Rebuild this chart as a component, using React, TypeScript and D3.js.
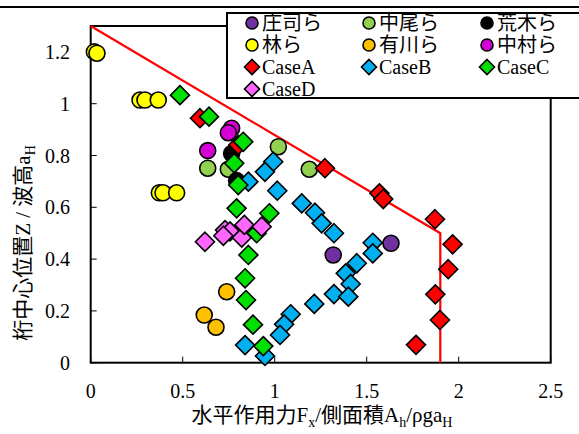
import * as d3 from 'd3';

type Pt = [number, number];

const shoji: Pt[] = [[1.318, 0.416], [1.632, 0.461]];
const nakao: Pt[] = [[0.636, 0.751], [0.748, 0.747], [1.02, 0.834], [1.188, 0.747]];
const araki: Pt[] = [[0.766, 0.808], [0.793, 0.703]];
const hayashi: Pt[] = [
  [0.02, 1.2], [0.034, 1.195], [0.268, 1.014], [0.295, 1.014], [0.367, 1.014],
  [0.373, 0.656], [0.393, 0.656], [0.467, 0.656],
];
const arikawa: Pt[] = [[0.739, 0.274], [0.617, 0.184], [0.681, 0.137]];
const nakamura: Pt[] = [[0.766, 0.905], [0.748, 0.888], [0.636, 0.819]];
const caseA: Pt[] = [
  [0.594, 0.944], [0.802, 0.841], [1.273, 0.751], [1.569, 0.654], [1.59, 0.632],
  [1.871, 0.554], [1.967, 0.457], [1.943, 0.361], [1.873, 0.264], [1.898, 0.165], [1.768, 0.069],
];
const caseB: Pt[] = [
  [0.992, 0.776], [0.947, 0.737], [0.857, 0.699], [1.014, 0.664], [1.147, 0.615],
  [1.219, 0.579], [1.255, 0.538], [1.322, 0.5], [1.533, 0.463], [1.533, 0.422],
  [1.446, 0.384], [1.386, 0.345], [1.413, 0.304], [1.322, 0.265], [1.4, 0.255],
  [1.215, 0.227], [1.087, 0.187], [1.051, 0.148], [1.029, 0.107], [0.839, 0.068], [0.947, 0.026],
];
const caseC: Pt[] = [
  [0.485, 1.033], [0.643, 0.95], [0.829, 0.853], [0.78, 0.77], [0.802, 0.686],
  [0.793, 0.596], [0.971, 0.577], [0.902, 0.5], [0.857, 0.416], [0.839, 0.326],
  [0.844, 0.242], [0.882, 0.147], [0.938, 0.064],
];
const caseD: Pt[] = [
  [0.621, 0.467], [0.73, 0.512], [0.757, 0.507], [0.721, 0.49], [0.821, 0.483],
  [0.835, 0.532], [0.929, 0.525],
];
const limitLine: Pt[] = [[0, 1.3], [1.9, 0.5], [1.9, 0]];

const xTicks = [0, 0.5, 1, 1.5, 2, 2.5];
const yTicks = [0, 0.2, 0.4, 0.6, 0.8, 1, 1.2];

const series = [
  { name: '庄司ら', shape: 'circle', color: '#7030A0', data: shoji },
  { name: '中尾ら', shape: 'circle', color: '#92D050', data: nakao },
  { name: '荒木ら', shape: 'circle', color: '#000000', data: araki },
  { name: '林ら', shape: 'circle', color: '#FFFF00', data: hayashi },
  { name: '有川ら', shape: 'circle', color: '#FFC000', data: arikawa },
  { name: '中村ら', shape: 'circle', color: '#D400D4', data: nakamura },
  { name: 'CaseA', shape: 'diamond', color: '#FF0000', data: caseA },
  { name: 'CaseB', shape: 'diamond', color: '#00B0F0', data: caseB },
  { name: 'CaseC', shape: 'diamond', color: '#00E000', data: caseC },
  { name: 'CaseD', shape: 'diamond', color: '#FF66FF', data: caseD },
];

const W = 579;
const H = 434;
const left = 90.7, right = 550.7, top = 26, bottom = 362.7;
const FONT = '"Liberation Serif", "Times New Roman", "Noto Sans CJK JP", serif';

const x = d3.scaleLinear().domain([0, 2.5]).range([left, right]);
const y = d3.scaleLinear().domain([0, 1.3]).range([bottom, top]);

const diamond = (cx: number, cy: number, r: number) =>
  `M${cx},${cy - r}L${cx + r},${cy}L${cx},${cy + r}L${cx - r},${cy}Z`;

function Marker({ shape, color, cx, cy, size }: { shape: string; color: string; cx: number; cy: number; size: number }) {
  if (shape === 'circle') {
    return <circle cx={cx} cy={cy} r={size} fill={color} stroke="#000" strokeWidth={1.6} />;
  }
  return <path d={diamond(cx, cy, size + 1.5)} fill={color} stroke="#000" strokeWidth={1.6} strokeLinejoin="miter" />;
}

export default function App() {
  const line = d3.line<Pt>().x(d => x(d[0])).y(d => y(d[1]));
  const legendCols = [252, 369, 487];
  const legendRows = [23, 45, 67, 89];

  return (
    <svg width={W} height={H} style={{ position: 'absolute', left: 0, top: 0, background: '#fff' }} fontFamily={FONT}>
      <rect x={0} y={0} width={W} height={H} fill="#fff" />
      {/* outer chart border (top edge only visible) */}
      <line x1={0} x2={W} y1={7} y2={7} stroke="#000" strokeWidth={2} />

      {/* plot frame */}
      <rect x={left} y={top} width={right - left} height={bottom - top} fill="none" stroke="#000" strokeWidth={2} />

      {/* ticks */}
      {xTicks.map(t => (
        <g key={'x' + t}>
          <line x1={x(t)} x2={x(t)} y1={bottom} y2={bottom - 6} stroke="#000" strokeWidth={1} />
          <text x={x(t)} y={398} fontSize={20} textAnchor="middle" fill="#000">{t}</text>
        </g>
      ))}
      {yTicks.map(t => (
        <g key={'y' + t}>
          <line x1={left} x2={left + 6} y1={y(t)} y2={y(t)} stroke="#000" strokeWidth={1} />
          <text x={70} y={y(t) + 7} fontSize={20} textAnchor="end" fill="#000">{t}</text>
        </g>
      ))}

      {/* limit line */}
      <path d={line(limitLine) || ''} fill="none" stroke="#FF0000" strokeWidth={2.2} />

      {/* points */}
      {series.map(s => (
        <g key={s.name}>
          {s.data.map((d, i) => (
            <Marker key={i} shape={s.shape} color={s.color} cx={x(d[0])} cy={y(d[1])} size={8} />
          ))}
        </g>
      ))}

      {/* legend */}
      <rect x={227} y={13} width={370} height={85} fill="#fff" stroke="#000" strokeWidth={2} />
      {series.map((s, i) => {
        const cx = legendCols[i % 3];
        const cy = legendRows[Math.floor(i / 3)];
        return (
          <g key={'lg' + s.name}>
            <Marker shape={s.shape} color={s.color} cx={cx} cy={cy} size={6} />
            <text x={cx + 10} y={cy + 7} fontSize={20} fill="#000">{s.name}</text>
          </g>
        );
      })}

      {/* axis titles */}
      <text x={322} y={422} fontSize={21} textAnchor="middle" fill="#000">
        水平作用力F<tspan fontSize={14} dy={5}>x</tspan>
        <tspan dy={-5}>/側面積A</tspan><tspan fontSize={14} dy={5}>h</tspan>
        <tspan dy={-5}>/ρga</tspan><tspan fontSize={14} dy={5}>H</tspan>
      </text>
      <text transform="translate(30,243) rotate(-90)" fontSize={21} textAnchor="middle" fill="#000">
        桁中心位置Z / 波高a<tspan fontSize={14} dy={5}>H</tspan>
      </text>
    </svg>
  );
}
